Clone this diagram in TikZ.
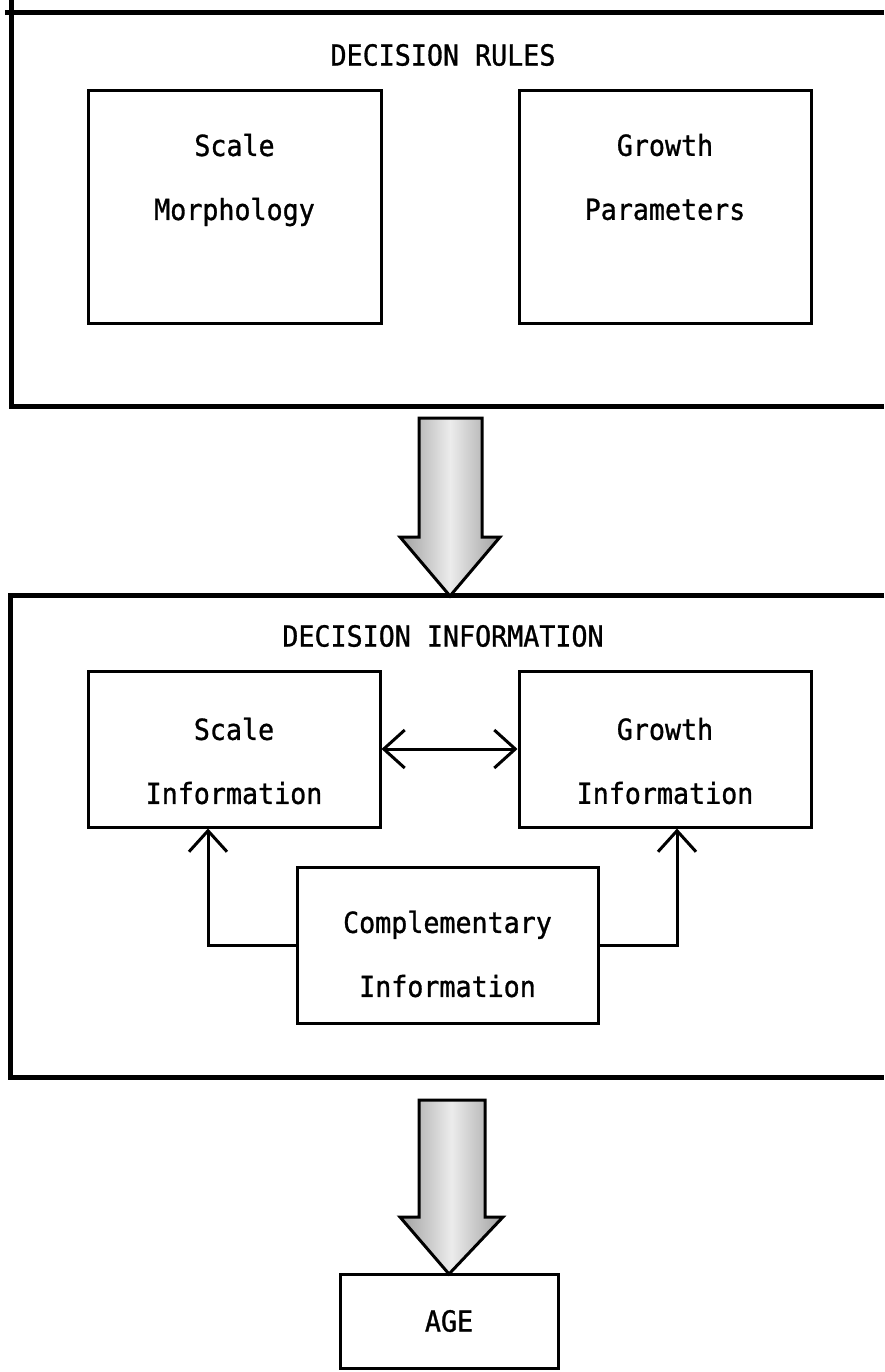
\documentclass[tikz,border=0pt]{standalone}
\usepackage{fontspec}
\setmonofont[FakeStretch=0.92, FakeBold=1]{DejaVu Sans Mono}
\usetikzlibrary{arrows.meta}
\usetikzlibrary{positioning}
\tikzset{
  frame/.style={line width=5pt},                  % outer frames
  box/.style={draw, line width=3pt, inner sep=0pt},
  txt/.style={font=\ttfamily\fontsize{29}{64}\selectfont, align=center},
  link/.style={line width=3pt},                   % thin connectors
  bigarrow/.style={draw, line width=3pt, line join=miter,
    left color=gray!75, right color=gray!75, middle color=gray!15}
}

\begin{document}
\begin{tikzpicture}[x=1pt, y=-1pt,
  >={Straight Barb[length=21pt, width=38pt]}
]
\useasboundingbox (0,0) rectangle (884,1372);

%Rahmen
\draw[frame] (884,13) -- (5,13);
\draw[frame] (11,0) -- (11,406) -- (884,406);
\draw[frame] (884,595) -| (10,1077) -- (884,1077);

%Titel
\node[txt] (rules) at (443,55) {DECISION RULES};
\node[txt] (info) at (443,636) {DECISION INFORMATION};

%Kaesten
\node[box, minimum width=293pt, minimum height=232pt] (morph) at (234.5,207) {};
\node[box, minimum width=292pt, minimum height=232pt] (param) at (665,207) {};
\node[box, minimum width=292pt, minimum height=156pt] (scaleinfo) at (234,749) {};
\node[box, minimum width=292pt, minimum height=156pt] (growthinfo) at (665,749) {};
\node[box, minimum width=301pt, minimum height=156pt] (comp) at (447.5,945) {};
\node[box, minimum width=218pt, minimum height=94pt] (age) at (449,1321) {};

%Texte
\node[txt] (morphtxt) at ([yshift=27pt]morph.center) {Scale\\Morphology};
\node[txt] (paramtxt) at ([yshift=30pt]param.center) {Growth\\Parameters};
\node[txt] (scaletxt) at ([yshift=-12pt]scaleinfo.center) {Scale\\Information};
\node[txt] (growthtxt) at ([yshift=-12pt]growthinfo.center) {Growth\\Information};
\node[txt] (comptxt) at ([yshift=-9pt]comp.center) {Complementary\\Information};
\node[txt] (agetxt) at (age.center) {AGE};

%Blockpfeile
\coordinate (tip1) at (450,596);
\draw[bigarrow] (419,418) -- (482,418) -- (482,537) -- (500,537) -- (tip1)
  -- (400,537) -- (419,537) -- cycle;
\coordinate (tip2) at (449,1274);
\draw[bigarrow] (419,1100) -- (485,1100) -- (485,1217) -- (503,1217) -- (tip2)
  -- (400,1217) -- (419,1217) -- cycle;

%Verbindungen
\draw[link, <->] (scaleinfo) -- (growthinfo);
\draw[link, ->] (comp.west) -| ([xshift=-26pt]scaleinfo.south);
\draw[link, ->] (comp.east) -| ([xshift=12pt]growthinfo.south);

\end{tikzpicture}
\end{document}
